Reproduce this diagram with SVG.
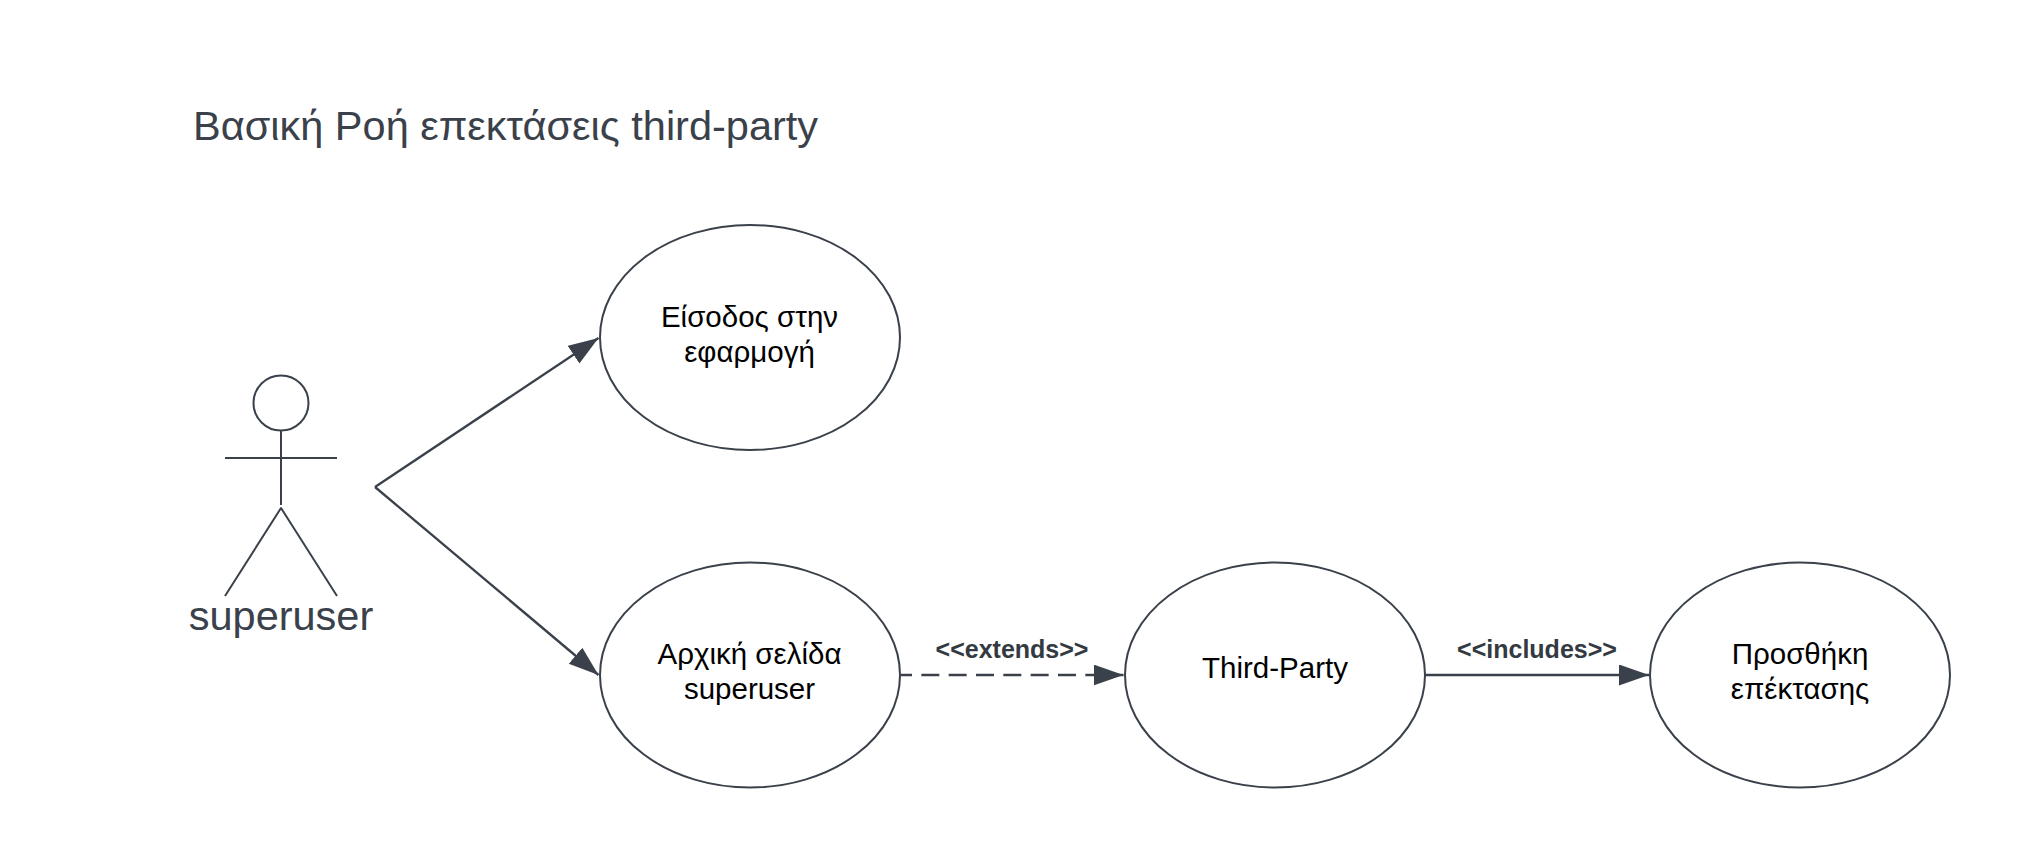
<svg xmlns="http://www.w3.org/2000/svg" width="2025" height="863" viewBox="0 0 2025 863">
<style>
text{font-family:"Liberation Sans",Arial,sans-serif;}
.shape{fill:#fff;stroke:#3a414a;stroke-width:2}
.stick{fill:none;stroke:#3a414a;stroke-width:2;stroke-linejoin:round}
.conn{fill:none;stroke:#3a414a;stroke-width:2.300}
.label{font-size:29.5px;fill:#000;text-anchor:middle}
.conn-label{font-size:25px;font-weight:bold;fill:#333a42;text-anchor:middle}
</style>
<defs>
<marker id="arrow" markerUnits="userSpaceOnUse" markerWidth="32" markerHeight="23" refX="30" refY="10.500" orient="auto"><path d="M0 0L30 10.500L0 21Z" fill="#3a414a"/></marker>
</defs>
<rect width="2025" height="863" fill="#fff"/>
<text id="title" x="193" y="139.500" font-size="41.500px" fill="#3a414a">Βασική Ροή επεκτάσεις third-party</text>
<g id="connectors">
<path class="conn" d="M375 487L598.500 338" marker-end="url(#arrow)"/>
<path class="conn" d="M375 487L598.500 675" marker-end="url(#arrow)"/>
<path class="conn" d="M901 675L1123.500 675" stroke-dasharray="18 9.330" stroke-dashoffset="7" marker-end="url(#arrow)"/>
<path class="conn" d="M1425 675L1649 675" marker-end="url(#arrow)"/>
<text class="conn-label" x="1012" y="658">&lt;&lt;extends&gt;&gt;</text>
<text class="conn-label" x="1537" y="658">&lt;&lt;includes&gt;&gt;</text>
</g>
<g id="actor-superuser">
<ellipse class="shape" cx="281" cy="403" rx="27.500" ry="27.500"/>
<path class="stick" d="M225 458H337M281 430.500V505M225 596L281 508L337 596"/>
<text x="281" y="630" font-size="41.500px" fill="#3a414a" text-anchor="middle">superuser</text>
</g>
<g id="uc-login">
<ellipse class="shape" cx="750" cy="337.500" rx="150" ry="112.500"/>
<text class="label" x="749.500" y="327">Είσοδος στην</text>
<text class="label" x="749.500" y="362">εφαρμογή</text>
</g>
<g id="uc-home">
<ellipse class="shape" cx="750" cy="675" rx="150" ry="112.500"/>
<text class="label" x="749.500" y="664">Αρχική σελίδα</text>
<text class="label" x="749.500" y="699">superuser</text>
</g>
<g id="uc-third-party">
<ellipse class="shape" cx="1275" cy="675" rx="150" ry="112.500"/>
<text class="label" x="1275" y="678">Third-Party</text>
</g>
<g id="uc-add-extension">
<ellipse class="shape" cx="1800" cy="675" rx="150" ry="112.500"/>
<text class="label" x="1800" y="664">Προσθήκη</text>
<text class="label" x="1800" y="699">επέκτασης</text>
</g>
</svg>
